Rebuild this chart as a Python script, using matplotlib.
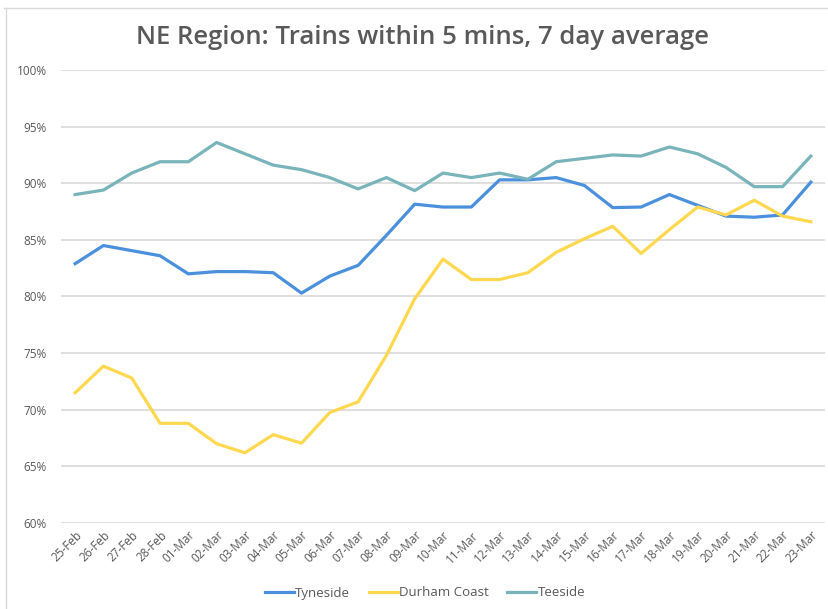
import numpy as np
import matplotlib.pyplot as plt
from matplotlib.lines import Line2D
from matplotlib.ticker import FuncFormatter

# Data
dates = ['25-Feb', '26-Feb', '27-Feb', '28-Feb', '01-Mar', '02-Mar', '03-Mar', '04-Mar',
         '05-Mar', '06-Mar', '07-Mar', '08-Mar', '09-Mar', '10-Mar', '11-Mar', '12-Mar',
         '13-Mar', '14-Mar', '15-Mar', '16-Mar', '17-Mar', '18-Mar', '19-Mar', '20-Mar',
         '21-Mar', '22-Mar', '23-Mar']
tyneside = [82.9, 84.5, 84.05, 83.6, 82.0, 82.2, 82.2, 82.1, 80.3, 81.8, 82.75, 85.4, 88.15,
            87.9, 87.9, 90.3, 90.3, 90.5, 89.8, 87.85, 87.9, 89.0, 88.05, 87.1, 87.0, 87.2, 90.1]
durham = [71.5, 73.85, 72.8, 68.8, 68.8, 67.0, 66.2, 67.8, 67.05, 69.75, 70.7, 74.8, 79.8,
          83.3, 81.5, 81.5, 82.1, 83.9, 85.1, 86.2, 83.8, 85.9, 87.9, 87.2, 88.5, 87.1, 86.6]
teeside = [89.0, 89.4, 90.9, 91.9, 91.9, 93.6, 92.6, 91.6, 91.2, 90.5, 89.5, 90.5, 89.35,
           90.9, 90.5, 90.9, 90.35, 91.9, 92.2, 92.5, 92.4, 93.2, 92.6, 91.4, 89.7, 89.7, 92.4]

grey = '#595959'
plt.rcParams['font.family'] = ['Open Sans', 'DejaVu Sans']

fig = plt.figure(figsize=(8.29, 6.09), dpi=100)
ax = fig.add_axes([61 / 829, 1 - 523 / 609, (825 - 61) / 829, (523 - 70) / 609])

x = np.arange(len(dates))
ax.plot(x, tyneside, color='#4A90DC', linewidth=2.3, label='Tyneside', solid_joinstyle='round')
ax.plot(x, durham, color='#FFD84F', linewidth=2.3, label='Durham Coast', solid_joinstyle='round')
ax.plot(x, teeside, color='#78B4BA', linewidth=2.3, label='Teeside', solid_joinstyle='round')

ax.set_xlim(-0.5, len(dates) - 0.5)
ax.set_ylim(60, 100)
ax.set_yticks(np.arange(60, 101, 5))
ax.yaxis.set_major_formatter(FuncFormatter(lambda v, p: f'{v:.0f}%'))
ax.set_xticks(x)
ax.set_xticklabels(dates, rotation=45, ha='right', rotation_mode='anchor')
ax.tick_params(axis='both', length=0, colors=grey, labelsize=8.5)
ax.tick_params(axis='y', pad=10)
ax.tick_params(axis='x', pad=4)
ax.grid(axis='y', color='#D9D9D9', linewidth=1.2)
ax.set_axisbelow(True)
for s in ax.spines.values():
    s.set_visible(False)

fig.text(0.51, 1 - 38 / 609, 'NE Region: Trains within 5 mins, 7 day average',
         ha='center', va='center', fontsize=18.5, color=grey, fontweight='semibold')

ax.legend(loc='center', bbox_to_anchor=(425 / 829, 1 - 593 / 609), bbox_transform=fig.transFigure,
          ncol=3, frameon=False, fontsize=9.5, labelcolor=grey, handlelength=2.2,
          handletextpad=0.1, columnspacing=1.4)

# chart border (top and left visible)
fig.add_artist(Line2D([4 / 829, 1], [1 - 8 / 609, 1 - 8 / 609], color='#D9D9D9', linewidth=1))
fig.add_artist(Line2D([6 / 829, 6 / 829], [0, 1 - 8 / 609], color='#D9D9D9', linewidth=1))

fig.savefig('out.png', dpi=100)
